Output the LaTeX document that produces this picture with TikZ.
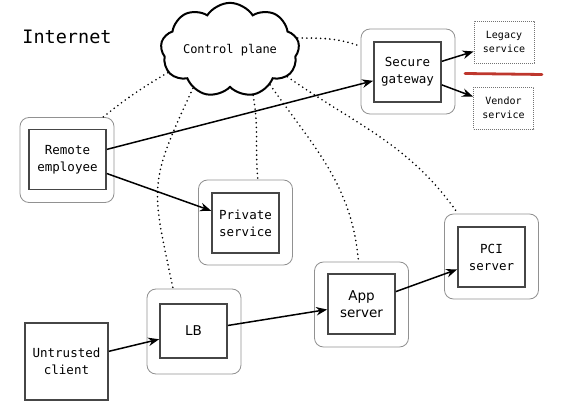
\documentclass[tikz,border=0pt]{standalone}
\usepackage{fontspec}
\setmainfont{DejaVu Sans}
\setmonofont{DejaVu Sans Mono}
\usetikzlibrary{shapes.symbols,arrows.meta}

\definecolor{boxedge}{RGB}{70,70,70}
\definecolor{hostedge}{RGB}{145,145,145}
\definecolor{zonered}{RGB}{190,55,45}

\tikzstyle{host}=[draw=hostedge, line width=0.8pt, rounded corners=9pt, minimum width=94pt, minimum height=85pt]
\tikzstyle{service}=[draw=boxedge, line width=1.7pt, minimum width=67pt, minimum height=60pt, inner sep=2pt, align=center, font=\ttfamily\fontsize{12.5}{17}\selectfont]
\tikzstyle{external}=[draw=black!55, line width=0.8pt, dash pattern=on 0.8pt off 1.2pt, minimum width=60pt, minimum height=42pt, inner sep=1pt, align=center, font=\ttfamily\fontsize{10}{13.5}\selectfont]
\tikzstyle{pointto}=[-{Stealth[length=11pt,width=8.5pt]}, line width=1.5pt]
\tikzstyle{control}=[line width=1.8pt, dash pattern=on 0pt off 4.6pt, line cap=round]

\begin{document}
\begin{tikzpicture}[x=1pt, y=1pt]
\useasboundingbox (0,0) rectangle (563,413);
\node[font=\ttfamily\fontsize{18.5}{22}\selectfont] (inet) at (67,376) {Internet};
\node[cloud, draw, line width=2pt, cloud puffs=9, cloud puff arc=115, aspect=1.8, minimum width=135pt, minimum height=78pt, inner sep=0pt, font=\ttfamily\fontsize{12}{14}\selectfont] (cp) at (230,363) {Control plane};

% hosts (outer rounded boxes)
\node[host] (gwbox)  at (408,341.5) {};
\node[host] (rembox) at (67,253) {};
\node[host] (prbox)  at (245.5,190.5) {};
\node[host] (pcibox) at (491.5,156.5) {};
\node[host] (appbox) at (361.5,108.5) {};
\node[host] (lbbox)  at (194,81.5) {};

% services
\node[service] (gw)  at (407.5,341) {Secure\\gateway};
\node[service, minimum width=77pt] (rem) at (67.5,253.5) {Remote\\employee};
\node[service] (pr)  at (245.5,190) {Private\\service};
\node[service] (pci) at (491.5,156) {PCI\\server};
\node[service, font=\fontsize{13.5}{17}\selectfont] (app) at (361.5,109) {App\\server};
\node[service, minimum height=54pt, font=\fontsize{13.5}{17}\selectfont] (lb) at (193.5,82) {LB};
\node[service, minimum width=83pt, minimum height=77pt] (uc) at (66.5,51.5) {Untrusted\\client};

\node[external] (leg) at (504,371) {Legacy\\service};
\node[external] (ven) at (503.5,305) {Vendor\\service};
\draw[zonered, line width=2.8pt, line cap=round] (465,339.5) -- (542,338.5);

% control plane links
\draw[control] (cp.200) to[bend right=4] (rembox.50);
\draw[control] (cp.226) to[out=245, in=102, looseness=1.35] (lbbox.116);
\draw[control] (cp.297) to[out=-80, in=95] (prbox.74);
\draw[control] (cp.319) to[out=-55, in=95] (appbox.94);
\draw[control] (cp.335) to[out=-35, in=125] (pcibox.128);
\draw[control] (cp.10) to[out=0, in=160] (gwbox.152);

% traffic
\draw[pointto] (rem) -- (gw);
\draw[pointto] (rem) -- (pr);
\draw[pointto] (uc) -- (lb);
\draw[pointto] (lb) -- (app);
\draw[pointto] (app) -- (pci);
\draw[pointto] (gw) -- (leg);
\draw[pointto] (gw) -- (ven);
\end{tikzpicture}
\end{document}
